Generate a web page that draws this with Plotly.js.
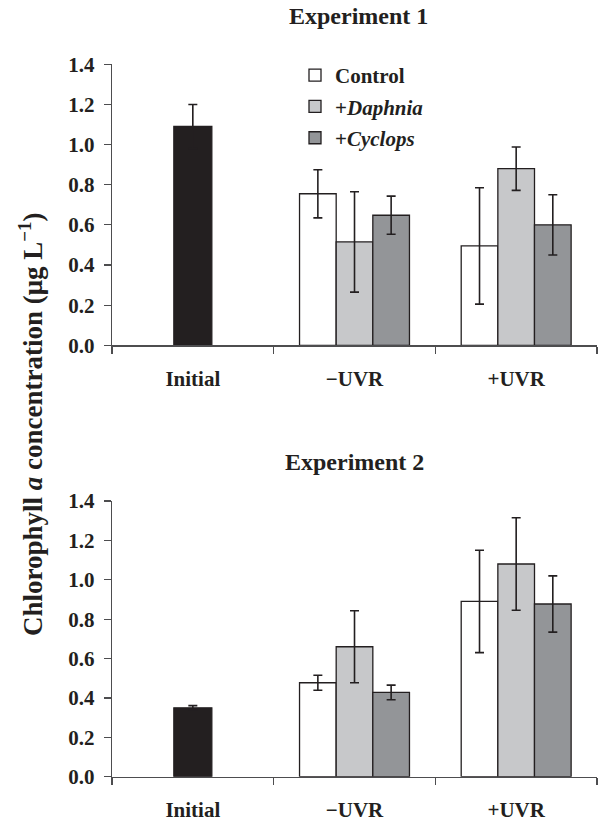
<!DOCTYPE html>
<html>
<head>
<meta charset="utf-8">
<script src="https://cdn.plot.ly/plotly-3.0.1.min.js"></script>
<style>html,body{margin:0;padding:0;background:#fff;}#chart{width:598px;height:822px;}</style>
</head>
<body>
<div id="chart"></div>
<script>
// ---- data ----
const categories = ["Initial", "\u2212UVR", "+UVR"];
const treatCats = ["\u2212UVR", "+UVR"];
const seriesNames = ["Control", "+<i>Daphnia</i>", "+<i>Cyclops</i>"];

// Experiment 1
const exp1Initial = [1.09];
const exp1InitialErr = [0.11];
const exp1Control = [0.755, 0.495];
const exp1ControlErr = [0.12, 0.29];
const exp1Daphnia = [0.515, 0.88];
const exp1DaphniaErr = [0.25, 0.108];
const exp1Cyclops = [0.648, 0.60];
const exp1CyclopsErr = [0.095, 0.15];

// Experiment 2
const exp2Initial = [0.35];
const exp2InitialErr = [0.011];
const exp2Control = [0.477, 0.89];
const exp2ControlErr = [0.038, 0.26];
const exp2Daphnia = [0.66, 1.08];
const exp2DaphniaErr = [0.183, 0.235];
const exp2Cyclops = [0.428, 0.877];
const exp2CyclopsErr = [0.037, 0.143];

const yTicks = [0, 0.2, 0.4, 0.6, 0.8, 1.0, 1.2, 1.4];

// ---- styles ----
const INK = "#231f20";
const fills = ["#ffffff", "#c7c8ca", "#939598"];
const offsets = [-0.34, -0.1133, 0.1133];
const bw = 0.2267;
const FONT = "Liberation Serif, Times New Roman, serif";

function errStyle(arr) {
  return {type: "data", array: arr, visible: true, color: INK, thickness: 1.6, width: 4.5};
}

const traces = [];
function addExperiment(ini, iniErr, groups, xa, ya, showLeg) {
  traces.push({
    type: "bar", x: ["Initial"], y: ini, error_y: errStyle(iniErr),
    xaxis: xa, yaxis: ya, width: 0.235, offset: -0.1175,
    marker: {color: INK, line: {color: INK, width: 1.3}}, showlegend: false, hoverinfo: "skip"
  });
  groups.forEach((g, i) => {
    traces.push({
      type: "bar", x: treatCats, y: g.v, error_y: errStyle(g.e),
      name: seriesNames[i], legendgroup: "g" + i,
      xaxis: xa, yaxis: ya, width: bw, offset: offsets[i],
      marker: {color: fills[i], line: {color: INK, width: 1.3}},
      showlegend: showLeg, hoverinfo: "skip"
    });
  });
}
addExperiment(exp1Initial, exp1InitialErr, [
  {v: exp1Control, e: exp1ControlErr},
  {v: exp1Daphnia, e: exp1DaphniaErr},
  {v: exp1Cyclops, e: exp1CyclopsErr}], "x", "y", true);
addExperiment(exp2Initial, exp2InitialErr, [
  {v: exp2Control, e: exp2ControlErr},
  {v: exp2Daphnia, e: exp2DaphniaErr},
  {v: exp2Cyclops, e: exp2CyclopsErr}], "x2", "y2", false);

const W = 598, H = 822;
const xdom = [112 / W, 597 / W];
function xAxis(anchor) {
  return {
    domain: xdom, anchor: anchor, type: "category",
    categoryorder: "array", categoryarray: categories,
    range: [-0.5, 2.5], fixedrange: true,
    showline: true, linecolor: "#4d4d4f", linewidth: 1.2,
    ticks: "outside", tickson: "boundaries", ticklen: 7, tickcolor: "#4d4d4f", tickwidth: 1.2,
    ticklabelstandoff: 14,
    tickfont: {family: FONT, size: 21, color: INK, weight: "bold"},
    showgrid: false, zeroline: false
  };
}
function yAxis(anchor, dom) {
  return {
    domain: dom, anchor: anchor, range: [0, 1.4], fixedrange: true,
    tickvals: yTicks, tickformat: ".1f",
    showline: true, linecolor: "#4d4d4f", linewidth: 1.2,
    ticks: "outside", ticklen: 7, tickcolor: "#4d4d4f", tickwidth: 1.2,
    ticklabelstandoff: 5,
    tickfont: {family: FONT, size: 21, color: INK, weight: "bold"},
    showgrid: false, zeroline: false
  };
}

const layout = {
  width: W, height: H,
  margin: {l: 0, r: 0, t: 0, b: 0, autoexpand: false},
  paper_bgcolor: "#fff", plot_bgcolor: "#fff",
  barmode: "overlay",
  xaxis: xAxis("y"),
  yaxis: yAxis("x", [(H - 345.3) / H, (H - 64.3) / H]),
  xaxis2: xAxis("y2"),
  yaxis2: yAxis("x2", [(H - 776.7) / H, (H - 501) / H]),
  showlegend: true,
  legend: {
    x: 295 / W, y: 1 - 55 / H, xanchor: "left", yanchor: "top",
    bgcolor: "rgba(0,0,0,0)", traceorder: "grouped", tracegroupgap: 1,
    font: {family: FONT, size: 21, color: INK, weight: "bold"}
  },
  annotations: [
    {text: "Experiment 1", xref: "paper", yref: "paper", x: 358 / W, y: 1 - 16 / H,
     xanchor: "center", yanchor: "middle", showarrow: false,
     font: {family: FONT, size: 24, color: INK, weight: "bold"}},
    {text: "Experiment 2", xref: "paper", yref: "paper", x: 354 / W, y: 1 - 462 / H,
     xanchor: "center", yanchor: "middle", showarrow: false,
     font: {family: FONT, size: 24, color: INK, weight: "bold"}},
    {text: "Chlorophyll <i>a</i> concentration (\u03bcg L<sup>\u22121</sup>)",
     xref: "paper", yref: "paper", x: 31 / W, y: 1 - 424 / H, textangle: -90,
     xanchor: "center", yanchor: "middle", showarrow: false,
     font: {family: FONT, size: 27, color: INK, weight: "bold"}}
  ]
};

Plotly.newPlot("chart", traces, layout, {staticPlot: true, displayModeBar: false});
</script>
</body>
</html>
